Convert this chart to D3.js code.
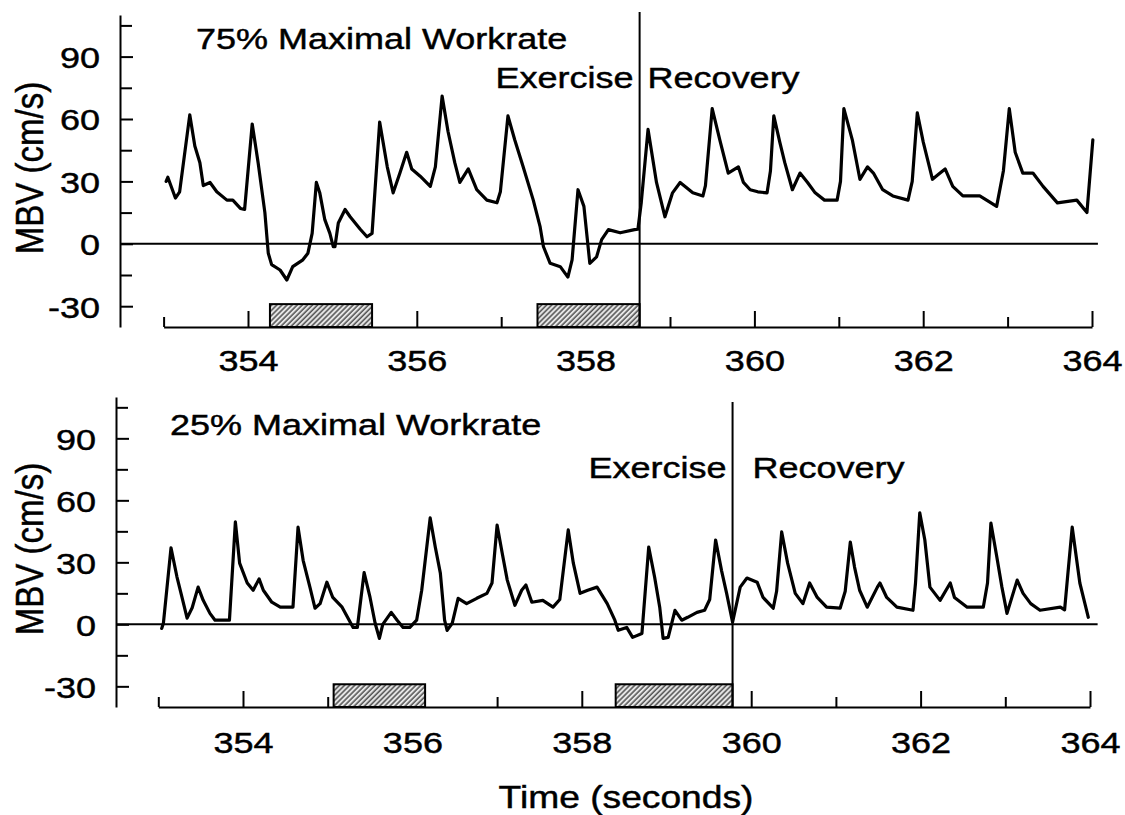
<!DOCTYPE html>
<html>
<head>
<meta charset="utf-8">
<script src="https://cdn.jsdelivr.net/npm/d3@7"></script>
<style>
  body { margin: 0; background: #fff; }
  svg { display: block; }
  text { font-family: "Liberation Sans", Arial, Helvetica, sans-serif; fill: #000; stroke: #000; stroke-width: 0.45px; }
</style>
</head>
<body>
<svg id="chart" width="1125" height="815"></svg>
<script>
// ---- axis definitions ----
const timeDomain = [353, 364];
const timeMajorTicks = [354, 356, 358, 360, 362, 364];
const timeMinorTicks = [353, 355, 357, 359, 361, 363];
const mbvDomain = [-40, 110];
const mbvMajorTicks = [-30, 0, 30, 60, 90];
const mbvMinorTicks = [-15, 15, 45, 75, 105];

// ---- 75% maximal workrate: middle-cerebral blood velocity trace ----
const hiTime = [353.03,353.05,353.14,353.19,353.31,353.37,353.43,353.47,353.55,353.63,353.75,353.82,353.91,353.96,
  354.05,354.12,354.20,354.24,354.28,354.38,354.46,354.53,354.65,354.71,354.76,354.81,354.85,354.91,354.97,
  355.01,355.03,355.07,355.15,355.21,355.33,355.41,355.47,355.56,355.65,355.72,355.80,355.88,355.94,
  356.04,356.16,356.22,356.30,356.37,356.45,356.51,356.61,356.71,356.83,356.95,356.99,
  357.08,357.16,357.26,357.38,357.46,357.50,357.58,357.70,357.79,357.84,357.91,357.98,
  358.05,358.13,358.19,358.27,358.41,358.58,358.62,358.66,358.74,358.84,358.94,
  359.03,359.12,359.27,359.39,359.42,359.50,359.59,359.69,359.81,359.87,359.95,
  360.04,360.15,360.19,360.23,360.30,360.36,360.45,360.54,360.63,360.72,360.83,360.98,
  361.02,361.06,361.16,361.25,361.34,361.41,361.52,361.64,361.82,361.87,361.93,
  362.00,362.11,362.20,362.26,362.35,362.47,362.67,362.87,362.95,
  363.02,363.09,363.18,363.30,363.42,363.59,363.82,363.94,364.01];
const hiMBV = [30,32,22,25,62,47,39,28,29.5,25,21,21,17,16.5,
  57.6,39,15,-4.5,-10,-12.6,-17.4,-11,-7.7,-4.5,5,29.5,24.6,11.6,5,
  -1.4,-1.4,10,16.5,13,7,3.4,5,58.5,37,24.5,34,44,36,
  32.5,27.6,37,71,54,39,29.5,36,26,21,19.7,25,
  61.5,50,37,21,8.4,-1.3,-9.4,-11,-16,-7.7,26,18,
  -9.4,-6.3,2,6.8,5.3,6.8,7,20,55,29.5,13,
  24.5,29.5,24.5,23,28,65,50,34,37,29.5,26,
  25,24.5,35,61.5,49,39,26,34,29.5,24.5,21,21,
  30,65,50,31,37,34,26,23,21,30,63,
  49,31,34,36,27.6,23,23,18,35,
  65,44,34,34,27.6,19.7,21,15,50];

// ---- 25% maximal workrate: middle-cerebral blood velocity trace ----
const loTime = [353.04,353.06,353.15,353.22,353.28,353.34,353.40,353.47,353.53,353.61,353.67,353.79,353.84,353.91,353.96,
  354.05,354.12,354.19,354.24,354.34,354.44,354.59,354.65,354.71,354.79,354.85,354.91,354.99,
  355.06,355.17,355.30,355.35,355.43,355.50,355.56,355.61,355.65,355.75,355.82,355.89,355.97,
  356.05,356.11,356.21,356.27,356.33,356.38,356.41,356.47,356.54,356.64,356.76,356.88,356.94,
  357.00,357.06,357.12,357.21,357.29,357.34,357.41,357.54,357.66,357.74,357.84,357.90,357.98,
  358.07,358.18,358.30,358.39,358.43,358.53,358.60,358.71,358.79,358.86,358.92,358.96,
  359.02,359.10,359.18,359.25,359.36,359.45,359.51,359.58,359.65,359.71,359.78,359.87,359.95,
  360.07,360.14,360.26,360.30,360.36,360.43,360.52,360.61,360.69,360.78,360.89,
  361.05,361.11,361.17,361.22,361.28,361.37,361.49,361.52,361.60,361.72,361.91,361.94,361.99,
  362.05,362.11,362.23,362.35,362.40,362.55,362.74,362.79,362.83,362.90,362.96,
  363.02,363.14,363.21,363.30,363.41,363.65,363.70,363.74,363.79,363.88,363.94,363.98];
const loMBV = [-2,0.5,37,23,13,3,8,18,11.6,5.3,2,2,2,49.6,29.6,
  20,16.5,22,16.5,10.7,8.3,8.3,47,31,18,7.8,10,20.4,
  13,8.3,-1.5,-1.5,25,13,0.5,-6.8,0,5.8,2,-1.5,-1.5,
  2,16.5,51.5,37.4,24.8,2,-2.9,0.5,12.6,10,12.6,15,20,
  48,34.5,21.4,9.2,16.5,19,10.7,11.6,8.3,12,45.7,29.6,15,
  16.5,18,10,2,-2.9,-1.5,-6.3,-4.4,37.4,22.8,8.3,-6.8,
  -6.3,6.8,2,3.4,5.8,6.8,12,40.8,26,15,1,18,22.4,
  20.4,13,7.8,16,44.7,29.6,15,10,20,13,8.3,
  7.8,16,39.8,27.7,16.5,8.3,18,20,13,8.3,6.8,20,54,
  40.8,18,11.6,20,13,8.3,8.3,20,49,32.6,18,
  5.3,21.4,15,10,6.8,8.3,7,25,47,20,10,3.4];

// ---- exercise bouts (start, end in seconds) and exercise/recovery switch ----
const hiExercise = [[354.26, 355.47], [357.43, 358.64]];
const loExercise = [[355.07, 356.15], [358.40, 359.78]];
const hiSwitch = 358.64;
const loSwitch = 359.78;
const barTop = -29;

const panelTitles = ["75% Maximal Workrate", "25% Maximal Workrate"];
const phaseLabels = ["Exercise", "Recovery"];
const yAxisTitle = "MBV (cm/s)";
const xAxisTitle = "Time (seconds)";

// ---- drawing ----
const svg = d3.select("#chart");
const SX = 1.2;           // horizontal stretch applied to every label
const FS = 30;            // label font size
const plainNumber = d => String(d);   // ASCII hyphen for negatives

// diagonal hatch for the exercise bars
const defs = svg.append("defs");
const pat = defs.append("pattern")
  .attr("id", "hatch").attr("patternUnits", "userSpaceOnUse")
  .attr("width", 3.6).attr("height", 3.6)
  .attr("patternTransform", "rotate(45)");
pat.append("rect").attr("width", 3.6).attr("height", 3.6).attr("fill", "#e6e6e6");
pat.append("line").attr("x1", 1).attr("y1", 0).attr("x2", 1).attr("y2", 3.6)
  .attr("stroke", "#3a3a3a").attr("stroke-width", 1.3);

function stretchedText(g, str, x, y, anchor, size) {
  return g.append("text")
    .attr("transform", `translate(${x},${y}) scale(${SX},1)`)
    .attr("text-anchor", anchor)
    .style("font-size", (size || FS) + "px")
    .text(str);
}

const panels = [
  { time: hiTime, mbv: hiMBV, bouts: hiExercise, sw: hiSwitch, title: panelTitles[0],
    axisX: 120, xRange: [163.6, 1092], yRange: [327, 15], zeroEnd: 364.07,
    titleX: 196, titleY: 49, phaseY: 88, switchTop: 12, labelGap: 44, yLabelY: 168, recGap: 8 },
  { time: loTime, mbv: loMBV, bouts: loExercise, sw: loSwitch, title: panelTitles[1],
    axisX: 116, xRange: [158.3, 1090], yRange: [707, 397], zeroEnd: 364.09,
    titleX: 170, titleY: 435, phaseY: 478, switchTop: 402, labelGap: 46, yLabelY: 549, recGap: 20 }
];

panels.forEach(p => {
  const g = svg.append("g");
  const x = d3.scaleLinear().domain(timeDomain).range(p.xRange);
  const y = d3.scaleLinear().domain(mbvDomain).range(p.yRange);

  // y axis: inward ticks, major and minor
  const yAx = g.append("g").attr("transform", `translate(${p.axisX},0)`);
  yAx.call(d3.axisLeft(y).tickValues(mbvMajorTicks).tickSize(-13).tickSizeOuter(0).tickFormat(plainNumber));
  yAx.append("g").call(d3.axisLeft(y).tickValues(mbvMinorTicks).tickSize(-12).tickSizeOuter(0).tickFormat(""))
    .select(".domain").remove();
  yAx.selectAll("path, line").attr("stroke", "#000").attr("stroke-width", 2);
  yAx.selectAll(".tick text")
    .attr("x", null).attr("dy", "0.36em")
    .attr("transform", `translate(-20,0) scale(${SX},1)`)
    .style("font-size", FS + "px").attr("fill", "#000");

  // x axis: upward ticks, labelled every 2 s
  const xAx = g.append("g").attr("transform", `translate(0,${y(mbvDomain[0])})`);
  xAx.call(d3.axisBottom(x).tickValues(timeMajorTicks).tickSize(-16).tickSizeOuter(0).tickFormat(plainNumber));
  xAx.append("g").call(d3.axisBottom(x).tickValues(timeMinorTicks).tickSize(-10).tickSizeOuter(0).tickFormat(""))
    .select(".domain").remove();
  xAx.selectAll("path, line").attr("stroke", "#000").attr("stroke-width", 2);
  xAx.selectAll(".tick text")
    .attr("y", null).attr("dy", null)
    .attr("transform", `translate(0,${p.labelGap}) scale(${SX},1)`)
    .style("font-size", FS + "px").attr("fill", "#000");

  // zero reference line
  g.append("line")
    .attr("x1", p.axisX).attr("x2", x(p.zeroEnd))
    .attr("y1", y(0)).attr("y2", y(0))
    .attr("stroke", "#000").attr("stroke-width", 2);

  // exercise bouts
  g.selectAll("rect.bout").data(p.bouts).join("rect")
    .attr("class", "bout")
    .attr("x", d => x(d[0])).attr("width", d => x(d[1]) - x(d[0]))
    .attr("y", y(barTop)).attr("height", y(mbvDomain[0]) - y(barTop))
    .attr("fill", "url(#hatch)").attr("stroke", "#000").attr("stroke-width", 2);

  // exercise / recovery divider
  g.append("line")
    .attr("x1", x(p.sw)).attr("x2", x(p.sw))
    .attr("y1", p.switchTop).attr("y2", y(mbvDomain[0]))
    .attr("stroke", "#000").attr("stroke-width", 2);

  // velocity trace
  const pts = p.time.map((t, i) => [t, p.mbv[i]]);
  g.append("path")
    .attr("d", d3.line().x(d => x(d[0])).y(d => y(d[1]))(pts))
    .attr("fill", "none").attr("stroke", "#000")
    .attr("stroke-width", 3.2).attr("stroke-linejoin", "round").attr("stroke-linecap", "round");

  // labels
  stretchedText(g, p.title, p.titleX, p.titleY, "start");
  stretchedText(g, phaseLabels[0], x(p.sw) - 6, p.phaseY, "end");
  stretchedText(g, phaseLabels[1], x(p.sw) + p.recGap, p.phaseY, "start");

  g.append("text")
    .attr("transform", `translate(43,${p.yLabelY}) scale(1.15,1) rotate(-90)`)
    .attr("text-anchor", "middle")
    .style("font-size", "33px")
    .text(yAxisTitle);
});

stretchedText(svg, xAxisTitle, 626, 808, "middle", 31);
</script>
</body>
</html>
